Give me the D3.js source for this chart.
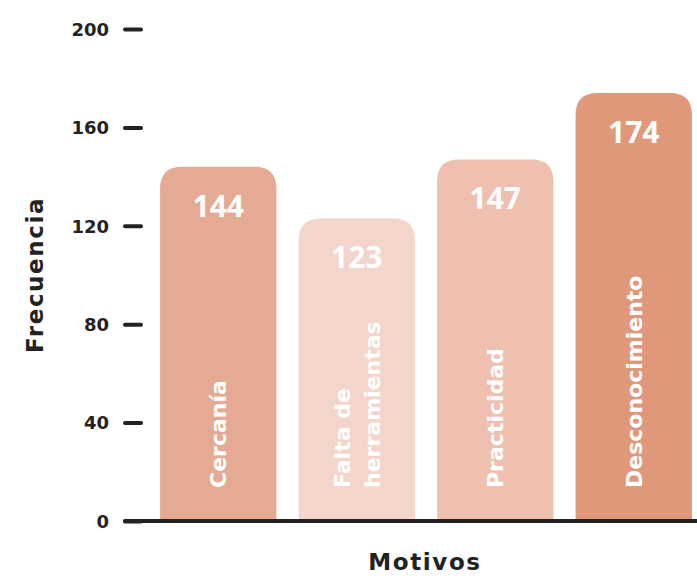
<!DOCTYPE html>
<meta charset="utf-8">
<style>
body { margin: 0; background: #fff; }
.tick text { font: bold 18px "DejaVu Sans", sans-serif; fill: #222; }
.val { font: bold 30px "Open Sans", sans-serif; fill: #fff; }
.cat { font: bold 22px "DejaVu Sans", sans-serif; fill: #fff; }
.title { font: bold 23px "DejaVu Sans", sans-serif; fill: #222; letter-spacing: 1.6px; }
</style>
<svg width="697" height="576"></svg>
<script src="https://d3js.org/d3.v7.min.js"></script>
<script>

var categories = ["Cercanía", "Falta de\nherramientas", "Practicidad", "Desconocimiento"],
    values = [144, 123, 147, 174],
    colors = ["#e5aa93", "#f3d5cb", "#efc0b0", "#e0987b"],
    ticks = [0, 40, 80, 120, 160, 200];

var svg = d3.select("svg");

var x = d3.scaleBand()
    .domain(categories)
    .range([149, 703])
    .paddingInner(0.16)
    .paddingOuter(0.08);

var y = d3.scaleLinear()
    .domain([0, 200])
    .range([521, 29]);

var r = 22;

function barPath(d, i) {
  var x0 = x(d), x1 = x0 + x.bandwidth(), y0 = y(values[i]), yb = y(0);
  return "M" + x0 + "," + yb +
    "V" + (y0 + r) +
    "Q" + x0 + "," + y0 + " " + (x0 + r) + "," + y0 +
    "H" + (x1 - r) +
    "Q" + x1 + "," + y0 + " " + x1 + "," + (y0 + r) +
    "V" + yb + "Z";
}

svg.selectAll(".bar")
  .data(categories)
  .enter().append("path")
    .attr("class", "bar")
    .attr("d", barPath)
    .attr("fill", function(d, i) { return colors[i]; });

svg.selectAll(".val")
  .data(categories)
  .enter().append("text")
    .attr("class", "val")
    .attr("x", function(d) { return x(d) + x.bandwidth() / 2; })
    .attr("y", function(d, i) { return y(values[i]) + 50; })
    .attr("text-anchor", "middle")
    .text(function(d, i) { return values[i]; });

// category labels, vertical inside bars
categories.forEach(function(d) {
  var lines = d.split("\n"),
      cx = x(d) + x.bandwidth() / 2,
      lh = 30;
  lines.forEach(function(l, j) {
    var tx = cx + (j - (lines.length - 1) / 2) * lh + 8;
    svg.append("text")
      .attr("class", "cat")
      .attr("transform", "translate(" + tx + ",488) rotate(-90)")
      .text(l);
  });
});

// y axis: ticks only
var yAxis = svg.append("g").attr("transform", "translate(141,0)")
  .call(d3.axisLeft(y).tickValues(ticks).tickSize(0).tickPadding(32));
yAxis.select(".domain").remove();
yAxis.selectAll(".tick").append("line")
  .attr("x1", -16).attr("x2", 0)
  .attr("stroke", "#222").attr("stroke-width", 4).attr("stroke-linecap", "round");
yAxis.selectAll(".tick text").attr("dy", "0.35em");

// baseline
svg.append("line")
  .attr("x1", 125).attr("x2", 697)
  .attr("y1", y(0)).attr("y2", y(0))
  .attr("stroke", "#222").attr("stroke-width", 4).attr("stroke-linecap", "round");

svg.append("text")
  .attr("class", "title")
  .attr("text-anchor", "middle")
  .attr("transform", "translate(43,275) rotate(-90)")
  .text("Frecuencia");

svg.append("text")
  .attr("class", "title")
  .attr("text-anchor", "middle")
  .attr("x", 425).attr("y", 570)
  .text("Motivos");

</script>
